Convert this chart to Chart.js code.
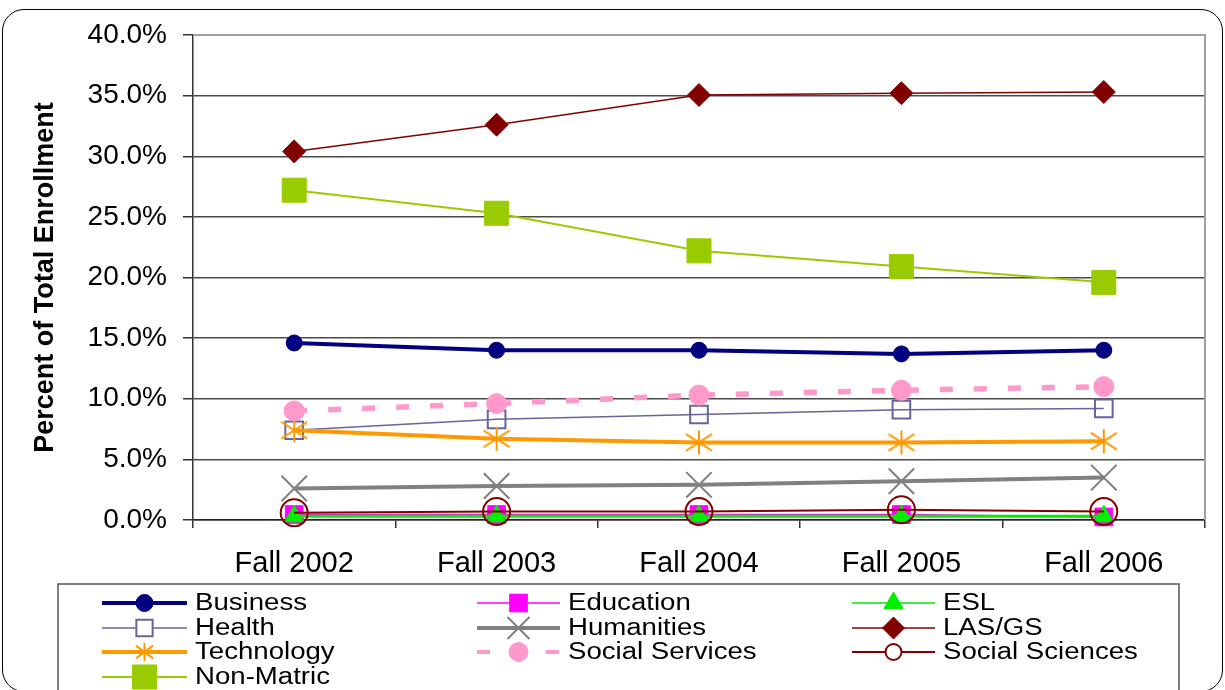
<!DOCTYPE html>
<html>
<head>
<meta charset="utf-8">
<script src="https://cdn.jsdelivr.net/npm/chart.js@4.4.0/dist/chart.umd.min.js"></script>
<style>
  html, body { margin: 0; padding: 0; background: #fff; }
  #wrap { position: relative; width: 1225px; height: 690px; overflow: hidden; }
  #frame { position: absolute; left: 2px; top: 9px; width: 1219px; height: 681px;
           border: 1.5px solid #000; border-radius: 22px; }
  #chart { position: absolute; left: 0; top: 0; }
</style>
</head>
<body>
<div id="wrap">
  <div id="frame"></div>
  <canvas id="chart" width="1225" height="690"></canvas>
</div>
<script>
// terms on the x axis
const TERMS = ["Fall 2002", "Fall 2003", "Fall 2004", "Fall 2005", "Fall 2006"];

// percent of total enrollment
const business       = [14.6, 14.0, 14.0, 13.7, 14.0];
const education      = [0.45, 0.45, 0.45, 0.45, 0.25];
const esl            = [0.3, 0.3, 0.3, 0.3, 0.3];
const health         = [7.4, 8.3, 8.7, 9.1, 9.2];
const humanities     = [2.6, 2.8, 2.9, 3.2, 3.5];
const lasGs          = [30.4, 32.6, 35.05, 35.2, 35.3];
const technology     = [7.4, 6.7, 6.4, 6.4, 6.5];
const socialServices = [9.0, 9.6, 10.3, 10.7, 11.0];
const socialSciences = [0.6, 0.7, 0.7, 0.85, 0.7];
const nonMatric      = [27.2, 25.3, 22.2, 20.9, 19.6];

// y axis: 0% .. 40% every 5%
const Y_MIN = 0;
const Y_MAX = 40;
const Y_STEP = 5;

// excel style asterisk marker (vertical bar plus an X)
function starMarker(color, w, h, lw) {
  const c = document.createElement("canvas");
  c.width = w;
  c.height = h;
  const g = c.getContext("2d");
  g.strokeStyle = color;
  g.lineWidth = lw;
  g.beginPath();
  g.moveTo(w / 2, 1); g.lineTo(w / 2, h - 1);
  g.moveTo(1, h * 0.18); g.lineTo(w - 1, h * 0.82);
  g.moveTo(1, h * 0.82); g.lineTo(w - 1, h * 0.18);
  g.stroke();
  return c;
}

const series = [
  { label: "Business", data: business, color: "#000080", width: 4,
    point: "circle", radius: 8, fill: true, legendRadius: 8.5 },
  { label: "Education", data: education, color: "#FF00FF", width: 1.5,
    point: "rect", radius: 12.5, fill: true, legendRadius: 12.5 },
  { label: "ESL", data: esl, color: "#00EE00", width: 3,
    point: "triangle", radius: 11, fill: true, legendRadius: 11, legendWidth: 1.5 },
  { label: "Health", data: health, color: "#666699", width: 1.5,
    point: "rect", radius: 12.5, fill: false, legendRadius: 11.5 },
  { label: "Humanities", data: humanities, color: "#808080", width: 4,
    point: "crossRot", radius: 18, fill: false, legendRadius: 15.5 },
  { label: "LAS/GS", data: lasGs, color: "#800000", width: 1.5,
    point: "rectRot", radius: 11.5, fill: true, legendRadius: 11 },
  { label: "Technology", data: technology, color: "#FF9900", width: 4,
    point: starMarker("#FF9900", 28, 26, 2), fill: false,
    legendPoint: starMarker("#FF9900", 19, 20, 2) },
  { label: "Social Services", data: socialServices, color: "#FF99CC", width: 5.5,
    dash: [13, 21], point: "circle", radius: 10, fill: true, legendRadius: 9.5,
    legendDash: [13, 56] },
  { label: "Social Sciences", data: socialSciences, color: "#800000", width: 2,
    point: "circle", radius: 13.5, fill: false, legendRadius: 8 },
  { label: "Non-Matric", data: nonMatric, color: "#99CC00", width: 2,
    point: "rect", radius: 17, fill: true, legendRadius: 17 },
];

const datasets = series.map((s, i) => ({
  label: s.label,
  data: s.data,
  borderColor: s.color,
  borderWidth: s.width,
  borderDash: s.dash || [],
  tension: 0,
  clip: false,
  pointStyle: s.point,
  pointRadius: s.radius || 14,
  pointBorderColor: s.color,
  pointBackgroundColor: s.fill ? s.color : "rgba(0,0,0,0)",
  pointBorderWidth: s.fill ? 1 : 2,
  order: series.length - i, // first series at the bottom, like excel
}));

// legend box under the plot, three columns
const LEGEND_COLS = [
  { x0: 102, x1: 187, text: 195 },
  { x0: 477, x1: 560, text: 568 },
  { x0: 852, x1: 935, text: 943 },
];
const LEGEND_ROWS = [603, 628, 652, 677];

const framePlugin = {
  id: "frame",
  beforeDatasetsDraw(chart) {
    const { ctx, chartArea: a } = chart;
    ctx.save();
    ctx.strokeStyle = "#a0a0a0";
    ctx.lineWidth = 2;
    ctx.beginPath();
    ctx.moveTo(a.left, a.top);
    ctx.lineTo(a.right, a.top);
    ctx.lineTo(a.right, a.bottom);
    ctx.stroke();
    ctx.restore();
  },
  afterDraw(chart) {
    const ctx = chart.ctx;
    ctx.save();
    ctx.strokeStyle = "#555";
    ctx.lineWidth = 1.5;
    ctx.strokeRect(58, 584, 1121, 140);

    series.forEach((s, i) => {
      const col = LEGEND_COLS[i % 3];
      const y = LEGEND_ROWS[Math.floor(i / 3)];
      ctx.strokeStyle = s.color;
      ctx.lineWidth = s.legendWidth || Math.min(s.width, 4);
      ctx.setLineDash(s.legendDash || []);
      ctx.beginPath();
      ctx.moveTo(col.x0, y);
      ctx.lineTo(col.x1, y);
      ctx.stroke();
      ctx.setLineDash([]);

      const mx = (col.x0 + col.x1) / 2;
      ctx.fillStyle = s.fill ? s.color : "#fff";
      ctx.strokeStyle = s.color;
      ctx.lineWidth = s.fill ? 1 : 2;
      Chart.helpers.drawPoint(ctx, {
        pointStyle: s.legendPoint || s.point,
        radius: s.legendRadius || 10,
        rotation: 0,
        borderWidth: s.fill ? 1 : 2,
      }, mx, y);

      // text is a bit wide in the original, so stretch it sideways
      ctx.save();
      ctx.translate(col.text, y);
      ctx.scale(1.2, 1);
      ctx.fillStyle = "#000";
      ctx.font = "23px 'Liberation Sans', Arial, sans-serif";
      ctx.textBaseline = "middle";
      ctx.fillText(s.label, 0, 1);
      ctx.restore();
    });
    ctx.restore();
  },
};

new Chart(document.getElementById("chart"), {
  type: "line",
  data: { labels: TERMS, datasets },
  plugins: [framePlugin],
  options: {
    responsive: false,
    animation: false,
    events: [],
    layout: { padding: { top: 35, right: 16, bottom: 106, left: 0 } },
    plugins: {
      legend: { display: false },
      tooltip: { enabled: false },
    },
    scales: {
      x: {
        offset: true,
        afterFit: (scale) => { scale.height = 64; },
        grid: {
          offset: true,
          drawOnChartArea: false,
          tickLength: 8,
          color: "#333",
          lineWidth: 1.5,
        },
        border: { color: "#222", width: 1.5 },
        ticks: {
          color: "#000",
          padding: 19,
          font: { family: "'Liberation Sans', Arial, sans-serif", size: 29 },
        },
      },
      y: {
        min: Y_MIN,
        max: Y_MAX,
        afterFit: (scale) => { scale.width = 193; },
        grid: {
          color: (c) => (c.tick && c.tick.value === Y_MAX ? "#a0a0a0" : "#4a4a4a"),
          tickColor: "#333",
          lineWidth: 1.5,
          tickLength: 10,
        },
        border: { color: "#333", width: 1.5 },
        ticks: {
          stepSize: Y_STEP,
          color: "#000",
          padding: 16,
          font: { family: "'Liberation Sans', Arial, sans-serif", size: 28 },
          callback: (v) => v.toFixed(1) + "%",
        },
        title: {
          display: true,
          text: "Percent of Total Enrollment",
          color: "#000",
          padding: { top: 29, bottom: 0 },
          font: { family: "'Liberation Sans', Arial, sans-serif", size: 27, weight: "bold" },
        },
      },
    },
  },
});
</script>
</body>
</html>
